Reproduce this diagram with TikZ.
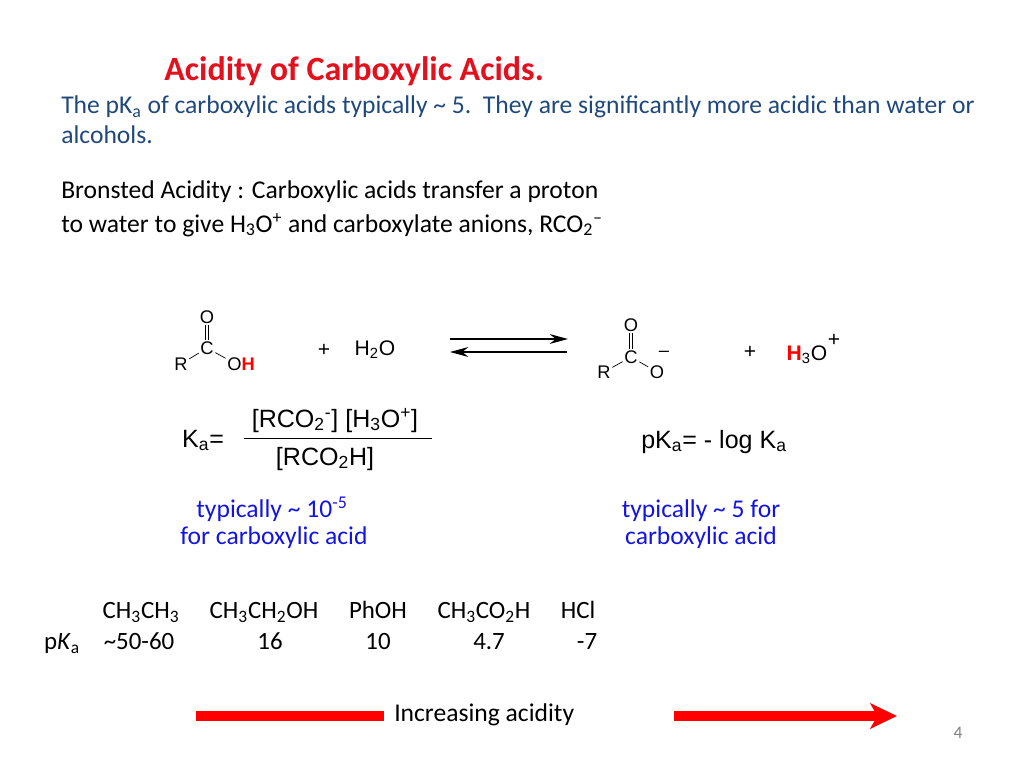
\documentclass[tikz,border=0pt]{standalone}
\usepackage{fontspec}
\setmainfont{Carlito}
\newfontfamily\arialfont{Liberation Sans}
\usetikzlibrary{arrows.meta}
\definecolor{titlered}{HTML}{E3101E}
\definecolor{bodyblue}{HTML}{1F497D}
\definecolor{noteblue}{HTML}{1414E0}
\newcommand{\lsub}[1]{\textsubscript{#1}}
\newcommand{\lsup}[1]{\textsuperscript{#1}}
\tikzset{
	body/.style={anchor=base west, inner sep=0, font=\fontsize{18.2}{20}\selectfont},
	note/.style={anchor=base, inner sep=0, align=center, text=noteblue, font=\fontsize{18.2}{20}\selectfont},
	atom/.style={inner sep=0.6pt, font=\arialfont\fontsize{13}{14}\selectfont},
	chem/.style={anchor=base, inner sep=0, font=\arialfont\fontsize{15}{18}\selectfont},
	eqn/.style={anchor=base, inner sep=0, font=\arialfont\fontsize{17.8}{20}\selectfont},
	cell/.style={anchor=base, inner sep=0, font=\fontsize{17.7}{20}\selectfont},
	bond/.style={line width=0.5pt, shorten <=0.5pt, shorten >=0.5pt},
	redbar/.style={draw=red, line width=6.5pt}
}
\begin{document}
\begin{tikzpicture}[x=0.025cm, y=-0.025cm]
		\useasboundingbox (0, 0) rectangle (1024, 768);
		%%%%% TEXT %%%%%
		\node[body, text=titlered, font=\bfseries\fontsize{24.2}{28}\selectfont] (title) at (164, 80.5) {Acidity of Carboxylic Acids.};
		\node[body, text=bodyblue] (introa) at (61, 114) {The pK\lsub{a} of carboxylic acids typically \textasciitilde{} 5.\ \ They are significantly more acidic than water or};
		\node[body, text=bodyblue] (introb) at (61, 144) {alcohols.};
		\node[body] (brona) at (61, 198) {Bronsted Acidity : Carboxylic acids transfer a proton};
		\node[body] (bronb) at (61, 232) {to water to give H\lsub{3}O\lsup{+} and carboxylate anions, RCO\lsub{2}\lsup{\textendash}};
		
		%%%%% ACID %%%%%
		\node[atom] (acidC) at (207, 348) {C};
		\node[atom] (acidO) at (207, 317) {O};
		\node[atom] (acidR) at (181, 364) {R};
		\node[atom] (acidOH) at (241, 364) {O\textcolor{red}{\bfseries H}};
		\draw[bond, double, double distance=2pt] (acidC) -- (acidO);
		\draw[bond] (acidC) -- (acidR);
		\draw[bond] (acidC) -- (acidOH.160);
		\node[chem] (plusa) at (324, 356) {+};
		\node[chem] (water) at (375, 355) {H\lsub{2}O};
		
		%%%%% EQUILIBRIUM %%%%%
		\coordinate (fwdstart) at (450, 339);
		\coordinate (fwdend) at (568, 339);
		\coordinate (backstart) at (567, 352);
		\coordinate (backend) at (450, 352);
		\draw[line width=0.8pt, -{Stealth[length=13pt, width=7pt]}] (fwdstart) -- (fwdend);
		\draw[line width=0.8pt, -{Stealth[length=13pt, width=7pt]}] (backstart) -- (backend);
		
		%%%%% ANION %%%%%
		\node[atom] (baseC) at (631, 357) {C};
		\node[atom] (baseO) at (631, 325) {O};
		\node[atom] (baseR) at (604, 372) {R};
		\node[atom] (baseOm) at (657, 372) {O};
		\node[atom] (minus) at (664, 354) {\textendash};
		\draw[bond, double, double distance=2pt] (baseC) -- (baseO);
		\draw[bond] (baseC) -- (baseR);
		\draw[bond] (baseC) -- (baseOm);
		\node[chem] (plusb) at (750, 358) {+};
		\node[chem] (hydronium) at (807, 360) {\textcolor{red}{\bfseries H}\lsub{3}O};
		\node[chem] (plusc) at (834, 346) {+};
		
		%%%%% KA %%%%%
		\node[eqn] (ka) at (203, 447) {K\lsub{a}=};
		\node[eqn] (numer) at (335, 427) {[RCO\lsub{2}\lsup{-}] [H\lsub{3}O\lsup{+}]};
		\node[eqn] (denom) at (325, 465) {[RCO\lsub{2}H]};
		\coordinate (fracleft) at (244, 438);
		\coordinate (fracright) at (432, 438);
		\draw[line width=0.5pt] (fracleft) -- (fracright);
		\node[eqn] (pka) at (714, 448) {pK\lsub{a}= - log K\lsub{a}};
		
		\node[note] (notea) at (272, 517) {typically \textasciitilde{} 10\lsup{-5}};
		\node[note] (noteb) at (274, 544.5) {for carboxylic acid};
		\node[note] (notec) at (701, 517) {typically \textasciitilde{} 5 for};
		\node[note] (noted) at (701, 544.5) {carboxylic acid};
		
		%%%%% TABLE %%%%%
		\node[cell] (ethane) at (141, 618.5) {CH\lsub{3}CH\lsub{3}};
		\node[cell] (ethanol) at (264, 618.5) {CH\lsub{3}CH\lsub{2}OH};
		\node[cell] (phenol) at (378, 618.5) {PhOH};
		\node[cell] (acetic) at (484, 618.5) {CH\lsub{3}CO\lsub{2}H};
		\node[cell] (hcl) at (578, 618.5) {HCl};
		\node[cell] (pklabel) at (62, 649.5) {p\textit{K}\lsub{a}};
		\node[cell] (pkethane) at (139, 649.5) {\textasciitilde 50-60};
		\node[cell] (pkethanol) at (270, 649.5) {16};
		\node[cell] (pkphenol) at (378, 649.5) {10};
		\node[cell] (pkacetic) at (489, 649.5) {4.7};
		\node[cell] (pkhcl) at (587, 649.5) {-7};
		
		%%%%% ARROW %%%%%
		\node[body] (trend) at (394, 721) {Increasing acidity};
		\coordinate (barstart) at (196, 716);
		\coordinate (barend) at (384, 716);
		\coordinate (arrowstart) at (674, 716);
		\coordinate (arrowend) at (897, 716);
		\draw[redbar] (barstart) -- (barend);
		\draw[redbar, -{Stealth[length=19pt, width=18pt, inset=5pt]}] (arrowstart) -- (arrowend);
		\node[anchor=base, inner sep=0, text=black!50, font=\fontsize{12.5}{14}\selectfont] (pagenum) at (958, 738) {4};
	\end{tikzpicture}
\end{document}
